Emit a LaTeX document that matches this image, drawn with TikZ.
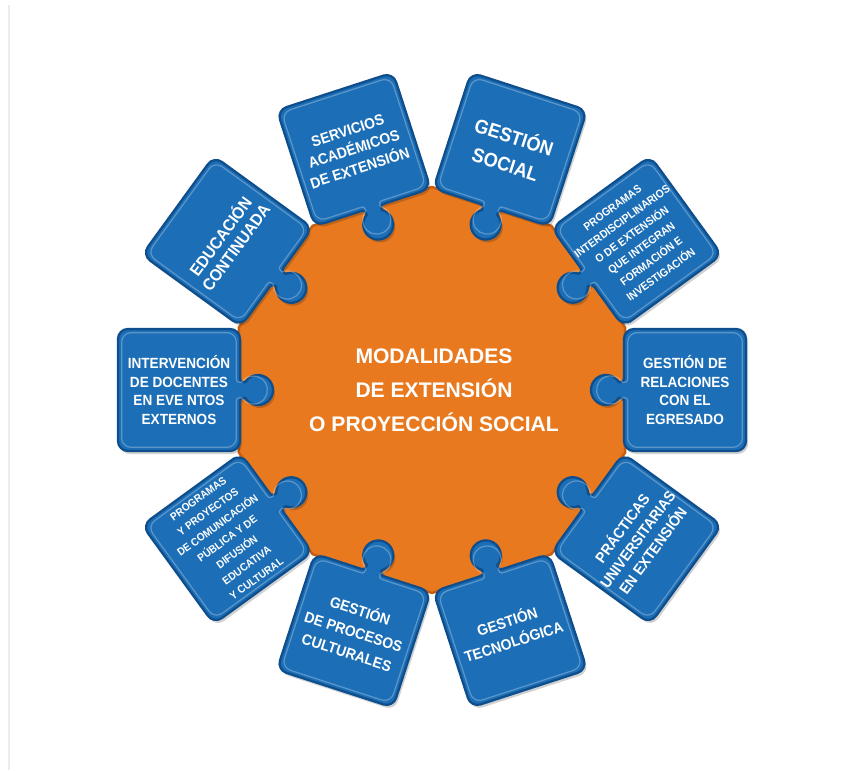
\documentclass[tikz,border=0pt]{standalone}
\usepackage{fontspec}
\setsansfont{Liberation Sans}
\newfontfamily\piecefont{Liberation Sans}[FakeStretch=0.92]
\usetikzlibrary{positioning}
\definecolor{pieceblue}{RGB}{28,110,182}
\definecolor{piecerim}{RGB}{14,78,140}
\definecolor{huborange}{RGB}{232,121,30}
\definecolor{hubrim}{RGB}{198,94,18}

% one puzzle piece, knob on the left side
\newcommand\pieceoutline{(-51,-61) -- (51,-61) arc[start angle=-90,end angle=0,radius=10]
  -- (61,51) arc[start angle=0,end angle=90,radius=10]
  -- (-51,61) arc[start angle=90,end angle=180,radius=10]
  -- (-61,12) .. controls (-61,8.5) and (-63,8) .. (-66.3,8)
  arc[start angle=32,end angle=328,radius=15]
  .. controls (-63,-8) and (-61,-8.5) .. (-61,-12)
  -- (-61,-51) arc[start angle=180,end angle=270,radius=10] -- cycle}

\begin{document}
\begin{tikzpicture}[x=0.02cm, y=0.02cm,
  hub/.style={fill=huborange, draw=hubrim, line width=1.4pt, line join=round},
  piecefill/.style={fill=pieceblue, draw=piecerim, line width=1.3pt},
  piecegloss/.style={draw=white, opacity=0.28, line width=0.7pt},
  pieceshadow/.style={fill=black, opacity=0.18},
  modtext/.style={text=white, align=center, inner sep=0pt}
]
\useasboundingbox (-432,-380) rectangle (415,390);
\draw[black!7, line width=0.8pt] (-423,385) -- (-423,-380);

% orange hub
\draw[hub] (18:203) \foreach \k in {1,...,9}{ -- (18+36*\k:203)} -- cycle;
\node[modtext, font=\sffamily\bfseries\fontsize{12}{19.4}\selectfont] (hub) at (2,0)
  {MODALIDADES\\DE EXTENSIÓN\\O PROYECCIÓN SOCIAL};

% pieces round the hub
\foreach \ang/\rot/\fs/\bs/\txt in {
  0/0/8.4/10.6/{GESTIÓN DE\\RELACIONES\\CON EL\\EGRESADO},
  36/36/6.4/9.4/{PROGRAMAS\\INTERDISCIPLINARIOS\\O DE EXTENSIÓN\\QUE INTEGRAN\\FORMACIÓN E\\INVESTIGACIÓN},
  72/-18/11.2/16/{GESTIÓN\\SOCIAL},
  108/18/8.6/11.2/{SERVICIOS\\ACADÉMICOS\\DE EXTENSIÓN},
  144/54/9.5/10.8/{EDUCACIÓN\\CONTINUADA},
  180/0/8.4/10.6/{INTERVENCIÓN\\DE DOCENTES\\EN EVE NTOS\\EXTERNOS},
  216/36/6.2/9.4/{PROGRAMAS\\Y PROYECTOS\\DE COMUNICACIÓN\\PÚBLICA Y DE\\DIFUSIÓN\\EDUCATIVA\\Y CULTURAL},
  252/-18/8.6/12.4/{GESTIÓN\\DE PROCESOS\\CULTURALES},
  288/18/8.6/12/{GESTIÓN\\TECNOLÓGICA},
  324/54/8.6/10.8/{PRÁCTICAS\\UNIVERSITARIAS\\EN EXTENSIÓN}}{
  \begin{scope}[shift={(\ang:253)}, shift={(2,-3)}, rotate=\ang]
    \fill[pieceshadow] \pieceoutline;
  \end{scope}
  \begin{scope}[shift={(\ang:253)}, rotate=\ang]
    \path[piecefill] \pieceoutline;
    \path[piecegloss, scale=0.94] \pieceoutline;
  \end{scope}
  \node[modtext, rotate=\rot, font=\piecefont\bfseries\fontsize{\fs}{\bs}\selectfont] (mod\ang) at (\ang:253) {\txt};
}
\end{tikzpicture}
\end{document}
